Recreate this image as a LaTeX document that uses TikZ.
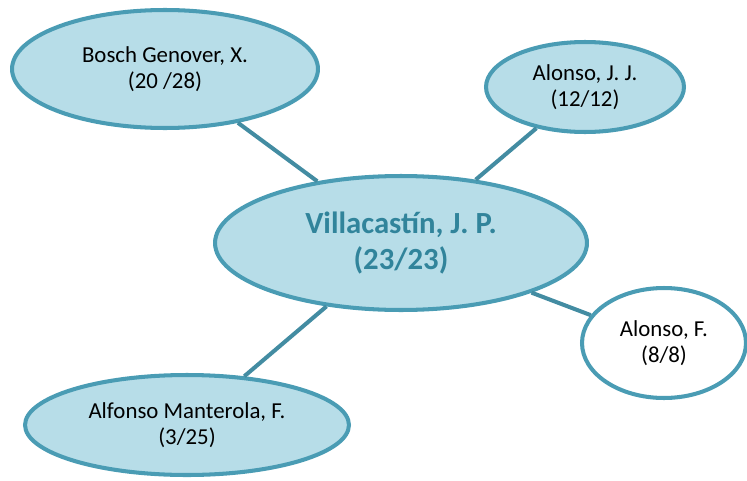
\documentclass[tikz,border=0pt]{standalone}
\usepackage{xcolor}
\usepackage{tikz}
\usetikzlibrary{shapes.geometric}
\usepackage{fontspec}
\setmainfont{Carlito}
\definecolor{autline}{HTML}{4A9CB4}
\definecolor{autfill}{HTML}{B7DDE8}
\definecolor{autmain}{HTML}{31849B}

\tikzset{
  autor/.style={ellipse,draw=autline,line width=2.3pt,fill=autfill,inner sep=0pt,
    align=center,font=\fontsize{13}{14.5}\selectfont},
  enlace/.style={draw=autline!90!black,line width=2.3pt}
}

\begin{document}
\begin{tikzpicture}[x=0.02cm,y=-0.02cm]
  \useasboundingbox (0,0) rectangle (747,480);
  \node[autor,minimum width=6.12cm,minimum height=2.36cm] (bosch) at (165,69) {Bosch Genover, X.\\(20 /28)};
  \node[autor,minimum width=3.96cm,minimum height=1.80cm] (alonsojj) at (585,87) {Alonso, J. J.\\(12/12)};
  \node[autor,minimum width=3.28cm,minimum height=2.20cm,fill=white] (alonsof) at (664,343) {Alonso, F.\\(8/8)};
  \node[autor,minimum width=6.48cm,minimum height=2.00cm] (alfonso) at (187,425) {Alfonso Manterola, F.\\(3/25)};
  \node[autor,minimum width=7.44cm,minimum height=2.68cm,text=autmain,
    font=\fontsize{17.5}{20}\selectfont\bfseries] (villa) at (401,243) {Villacastín, J. P.\\(23/23)};
  \draw[enlace] (villa) -- (bosch);
  \draw[enlace] (villa) -- (alonsojj);
  \draw[enlace] (villa) -- (alonsof);
  \draw[enlace] (villa) -- (alfonso);
\end{tikzpicture}
\end{document}
